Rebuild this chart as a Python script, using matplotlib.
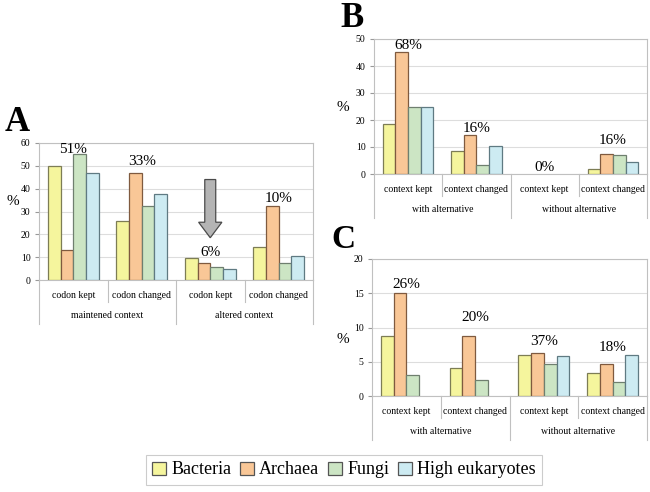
import numpy as np
from matplotlib import pyplot as plt
from matplotlib.patches import FancyArrow, Patch
from matplotlib.transforms import blended_transform_factory

plt.rcParams['font.family'] = ['Liberation Serif', 'DejaVu Serif']

series = ['Bacteria', 'Archaea', 'Fungi', 'High eukaryotes']
fills = ['#F5F59D', '#F9C797', '#CCE5C4', '#CDEBF2']
edges = ['#7d7d55', '#7f5a3f', '#6f7f6f', '#5f7a82']

# panel A
a_cats = ['codon kept', 'codon changed', 'codon kept', 'codon changed']
a_groups = ['maintened context', 'altered context']
a_vals = [[50, 26, 9.5, 14.5],      # Bacteria
          [13, 47, 7.5, 32.5],      # Archaea
          [55, 32.5, 5.8, 7.5],     # Fungi
          [47, 37.5, 5, 10.5]]      # High eukaryotes
a_notes = ['51%', '33%', '6%', '10%']
a_note_y = [55.5, 50.5, 10.5, 34.2]

# panel B
b_cats = ['context kept', 'context changed', 'context kept', 'context changed']
b_groups = ['with alternative', 'without alternative']
b_vals = [[18.7, 8.5, 0, 2],
          [45.3, 14.5, 0, 7.3],
          [25, 3.5, 0, 7],
          [24.7, 10.3, 0, 4.3]]
b_notes = ['68%', '16%', '0%', '16%']
b_note_y = [46.3, 15.6, 1.1, 11.1]

# panel C
c_cats = ['context kept', 'context changed', 'context kept', 'context changed']
c_groups = ['with alternative', 'without alternative']
c_vals = [[8.8, 4.1, 6, 3.4],
          [15, 8.8, 6.3, 4.7],
          [3, 2.4, 4.7, 2.1],
          [0, 0, 5.9, 6]]
c_notes = ['26%', '20%', '37%', '18%']
c_note_y = [15.8, 10.9, 7.4, 6.5]

W, H = 650, 492
fig = plt.figure(figsize=(W / 100, H / 100), dpi=100)


def px_axes(left, top, right, bottom):
    return fig.add_axes([left / W, (H - bottom) / H, (right - left) / W, (bottom - top) / H])


def panel(ax, cats, groups, vals, notes, note_y, ymax, step, pct_x, pct_y):
    x = np.arange(len(cats))
    bw = 0.185
    for i, v in enumerate(vals):
        v = np.array(v, dtype=float)
        keep = v > 0
        ax.bar(x[keep] + (i - 1.5) * bw, v[keep], bw, color=fills[i],
               edgecolor=edges[i], linewidth=0.9, zorder=3)
    for xi, t, yy in zip(x, notes, note_y):
        ax.text(xi, yy, t, ha='center', va='baseline', fontsize=11, zorder=4)
    ax.set_xlim(-0.5, len(cats) - 0.5)
    ax.set_ylim(0, ymax)
    ax.set_yticks(np.arange(0, ymax + 0.1, step))
    ax.tick_params(axis='y', labelsize=7, length=3, color='#999999', pad=3)
    ax.set_xticks([])
    ax.grid(axis='y', color='#dddddd', linewidth=0.8, zorder=0)
    for s in ax.spines.values():
        s.set_color('#c0c0c0')
        s.set_linewidth(0.8)
    ax.text(pct_x, pct_y, '%', transform=ax.transAxes, fontsize=11,
            ha='center', va='center')

    h = ax.bbox.height
    tr = blended_transform_factory(ax.transData, ax.transAxes)
    for xb in np.arange(-0.5, len(cats), 1):
        deep = (xb + 0.5) % 2 == 0
        depth = 44 if deep else 22
        ax.plot([xb, xb], [0, -depth / h], transform=tr, clip_on=False,
                color='#c0c0c0', linewidth=0.8)
    for xi, c in zip(x, cats):
        ax.text(xi, -16 / h, c, transform=tr, ha='center', va='center', fontsize=7)
    for gi, g in enumerate(groups):
        ax.text(2 * gi + 0.5, -35 / h, g, transform=tr, ha='center', va='center', fontsize=7)


ax_a = px_axes(39, 143, 313, 280)
panel(ax_a, a_cats, a_groups, a_vals, a_notes, a_note_y, 60, 10, -0.095, 0.57)
ax_a.add_patch(FancyArrow(2.0, 44, 0, -25.5, width=0.16, head_width=0.34,
                          head_length=6.8, length_includes_head=True,
                          facecolor='#b4b4b4', edgecolor='#4a4a4a', linewidth=0.9, zorder=5))

ax_b = px_axes(374, 39, 647, 174)
panel(ax_b, b_cats, b_groups, b_vals, b_notes, b_note_y, 50, 10, -0.114, 0.49)

ax_c = px_axes(372, 259, 647, 396)
panel(ax_c, c_cats, c_groups, c_vals, c_notes, c_note_y, 20, 5, -0.105, 0.41)

fig.text(5 / W, 1 - 131 / H, 'A', fontsize=25, fontweight='bold')
fig.text(340 / W, 1 - 27 / H, 'B', fontsize=25, fontweight='bold')
fig.text(331 / W, 1 - 248 / H, 'C', fontsize=24, fontweight='bold')

handles = [Patch(facecolor=f, edgecolor='#555555', linewidth=0.9) for f in fills]
leg = fig.legend(handles, series, loc='center', bbox_to_anchor=(344 / W, 1 - 470 / H),
                 ncol=4, fontsize=13, frameon=True, fancybox=False,
                 handlelength=0.75, handleheight=0.75, handletextpad=0.3,
                 columnspacing=0.5, borderpad=0.35)
leg.get_frame().set_edgecolor('#c0c0c0')
leg.get_frame().set_linewidth(0.8)

fig.savefig('out.png', dpi=100)
